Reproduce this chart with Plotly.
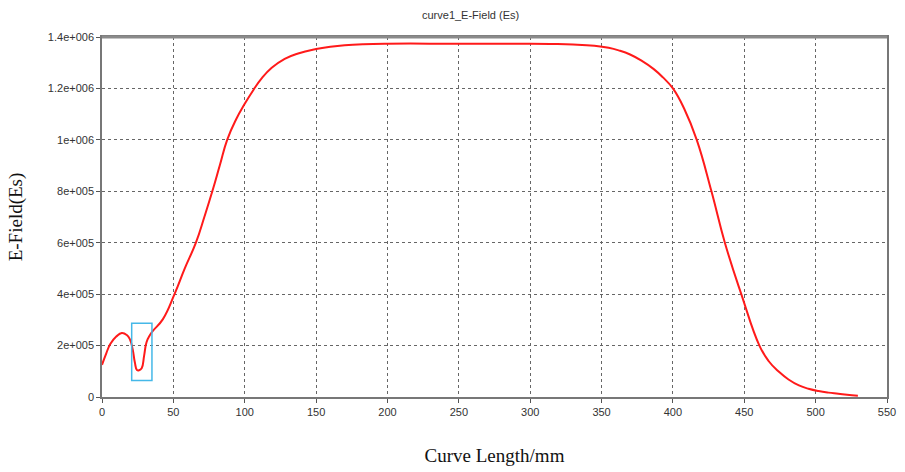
import plotly.graph_objects as go

# Curve data
curve_length = [0, 3, 5.8, 10, 13.9, 17.4, 19.5, 21.5, 23, 24.5, 26, 27.8, 29.5, 31.2, 33.5, 35.8,
                42.7, 50.8, 58, 65.8, 71.7, 77.3, 82.5, 87.7, 94, 100, 106.2,
                112, 118.9, 128, 137.4, 150, 160, 170, 183, 200,
                250, 300, 315, 330, 345, 355, 362, 370, 378, 386.6, 393, 400, 408, 416.7,
                427, 436.4, 447.9, 460.6, 467, 474.5, 481, 488.3, 495,
                502, 509, 515.9, 522, 529.6]
e_field = [1.25e5, 1.7e5, 2.06e5, 2.35e5, 2.49e5, 2.41e5, 2.25e5, 1.85e5, 1.35e5, 1.05e5, 1.04e5,
           1.12e5, 1.6e5, 2.13e5, 2.4e5, 2.58e5,
           3.03e5, 4.0e5, 5.0e5, 6.0e5, 7.0e5, 8.0e5, 9.0e5, 1.0e6, 1.08e6, 1.14e6, 1.195e6,
           1.24e6, 1.28e6, 1.315e6, 1.336e6, 1.353e6, 1.362e6, 1.368e6, 1.372e6, 1.374e6,
           1.374e6, 1.374e6, 1.373e6, 1.371e6, 1.366e6, 1.358e6, 1.348e6, 1.332e6, 1.308e6,
           1.275e6, 1.243e6, 1.2e6, 1.12e6, 1.0e6,
           8.0e5, 6.0e5, 4.0e5, 2.0e5, 1.4e5, 9.7e4, 6.8e4, 4.5e4, 3.2e4,
           2.3e4, 1.7e4, 1.3e4, 9e3, 5e3]

x_ticks = [0, 50, 100, 150, 200, 250, 300, 350, 400, 450, 500, 550]
y_ticks = [0, 2e5, 4e5, 6e5, 8e5, 1e6, 1.2e6, 1.4e6]
y_tick_labels = ["0", "2e+005", "4e+005", "6e+005", "8e+005", "1e+006", "1.2e+006", "1.4e+006"]

# highlighted region (blue box)
box_x = [20.8, 35]
box_y = [6.4e4, 2.87e5]

tick_font = dict(family="Liberation Sans Narrow, Liberation Sans, Arial", size=11, color="#333")

fig = go.Figure()
fig.add_trace(go.Scatter(x=curve_length, y=e_field, mode="lines",
                         line=dict(color="#ff1a1a", width=2, shape="spline", smoothing=1.3),
                         showlegend=False))

fig.add_shape(type="rect", xref="x", yref="y", x0=box_x[0], x1=box_x[1], y0=box_y[0], y1=box_y[1],
              line=dict(color="#45b8e8", width=1.5))
# thick top frame
fig.add_shape(type="line", xref="paper", yref="paper", x0=0, x1=1, y0=1, y1=1,
              line=dict(color="#8a8a8a", width=3))

fig.update_layout(
    width=905, height=472,
    margin=dict(l=102, r=9, t=37, b=74),
    paper_bgcolor="white", plot_bgcolor="white",
    title=dict(text="curve1_E-Field (Es)", x=0.52, xanchor="center", y=0.968, yanchor="middle",
               font=dict(family="Liberation Sans Narrow, Liberation Sans, Arial", size=11, color="#333")),
    xaxis=dict(range=[0, 550], tickvals=x_ticks, ticktext=[str(v) for v in x_ticks],
               showgrid=True, gridcolor="#666", griddash="dot", gridwidth=1,
               showline=True, linecolor="#777", linewidth=1.5, mirror=True,
               ticks="outside", ticklen=4, tickcolor="#555", tickfont=tick_font,
               zeroline=False,
               title=dict(text="Curve Length/mm", standoff=32,
                          font=dict(family="Liberation Serif, Times New Roman", size=19, color="#111"))),
    yaxis=dict(range=[0, 1.4e6], tickvals=y_ticks, ticktext=y_tick_labels,
               showgrid=True, gridcolor="#666", griddash="dot", gridwidth=1,
               showline=True, linecolor="#777", linewidth=1.5, mirror=True,
               ticks="outside", ticklen=4, tickcolor="#555", tickfont=tick_font,
               zeroline=False,
               title=dict(text="E-Field(Es)", standoff=20,
                          font=dict(family="Liberation Serif, Times New Roman", size=19, color="#111"))),
)

fig.write_html("out.html")
